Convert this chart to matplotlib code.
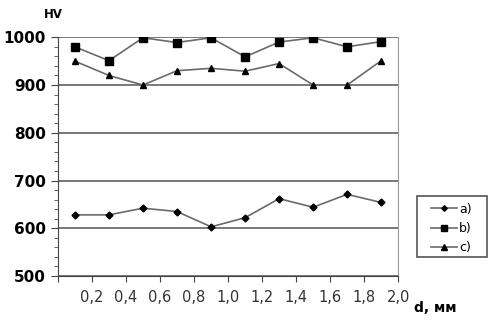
import numpy as np
import matplotlib.pyplot as plt
from matplotlib.ticker import MultipleLocator
from matplotlib.patches import Rectangle

# depth d, mm
d = [0.1, 0.3, 0.5, 0.7, 0.9, 1.1, 1.3, 1.5, 1.7, 1.9]
# microhardness HV for the three samples
hv_a = [628, 628, 642, 635, 603, 622, 662, 644, 671, 654]
hv_b = [980, 951, 999, 989, 999, 959, 990, 999, 980, 991]
hv_c = [950, 920, 900, 930, 935, 929, 945, 900, 900, 951]
labels = ["a)", "b)", "c)"]

fig = plt.figure(figsize=(4.99, 3.27), dpi=100)
ax = fig.add_axes([0.116, 0.156, 0.682, 0.730])

line_col = "#6a6a6a"
ax.plot(d, hv_a, color=line_col, lw=1.2, marker="D", ms=3.5, mfc="black", mec="black", label=labels[0])
ax.plot(d, hv_b, color=line_col, lw=1.2, marker="s", ms=5.5, mfc="black", mec="black", label=labels[1])
ax.plot(d, hv_c, color=line_col, lw=1.2, marker="^", ms=5, mfc="black", mec="black", label=labels[2])

ax.set_xlim(0, 2.0)
ax.set_ylim(500, 1000)
ax.yaxis.set_major_locator(MultipleLocator(100))
ax.yaxis.set_minor_locator(MultipleLocator(20))
ax.grid(axis="y", which="major", color="#555555", lw=1.1)
ax.set_axisbelow(True)

ax.spines["top"].set_visible(False)
ax.spines["right"].set_color("#999999")
ax.spines["left"].set_color("#444444")
ax.spines["bottom"].set_color("#444444")

xt = np.arange(0.2, 2.01, 0.2)
ax.set_xticks(np.arange(0, 2.01, 0.2))
ax.set_xticklabels([""] + [("%.1f" % v).replace(".", ",") for v in xt],
                   fontsize=10.5, color="#333333")
ax.tick_params(axis="x", length=4, color="#444444", pad=6)
ax.tick_params(axis="y", which="major", length=5, color="#444444", labelsize=11)
ax.tick_params(axis="y", which="minor", length=3, color="#444444")
for t in ax.get_yticklabels():
    t.set_fontweight("bold")

fig.text(0.106, 0.956, "HV", fontsize=8.5, fontweight="bold", ha="center", va="center")
fig.text(0.83, 0.058, "d, мм", fontsize=10, fontweight="bold", ha="left", va="center")

# legend box
ax.add_patch(Rectangle((1.056, 0.0795), 0.206, 0.2555, transform=ax.transAxes,
                       fill=False, edgecolor="#555555", lw=1.2, clip_on=False))
leg = ax.legend(loc="upper left", bbox_to_anchor=(1.095, 0.307), borderaxespad=0,
                frameon=False, fontsize=9, handlelength=2.1, handletextpad=0.2,
                labelspacing=0.5, borderpad=0, markerscale=0.8)

fig.savefig("out.png", dpi=100)
